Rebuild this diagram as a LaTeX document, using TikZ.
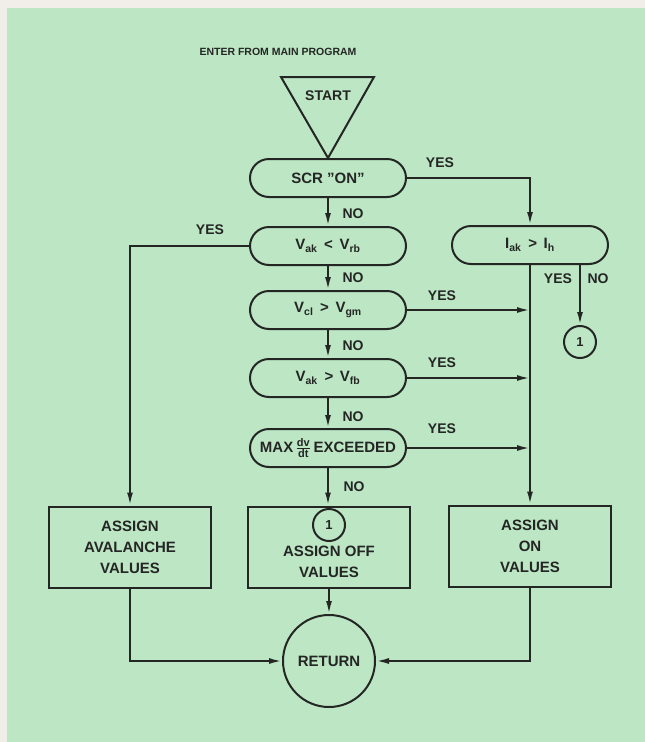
\documentclass[tikz,border=0pt]{standalone}
\usepackage{fontspec}
\setmainfont{Liberation Sans}
\usetikzlibrary{shapes.misc,arrows.meta}
\definecolor{bg}{RGB}{189,230,197}
\definecolor{paper}{RGB}{241,237,233}
\definecolor{ink}{RGB}{36,38,36}
\tikzset{
  every node/.style={text=ink},
  term/.style={draw=ink, line width=2pt, rounded rectangle, minimum width=160pt, minimum height=38pt, inner xsep=2pt, font=\fontsize{15}{18}\selectfont\bfseries},
  procbox/.style={draw=ink, line width=2pt, rectangle, minimum width=162pt, minimum height=81pt},
  boxtext/.style={align=center, inner sep=0pt, font=\fontsize{15}{21}\selectfont\bfseries},
  conn/.style={draw=ink, line width=2pt, circle, minimum size=32pt, inner sep=0pt, font=\fontsize{13}{15}\selectfont\bfseries},
  retc/.style={draw=ink, line width=2pt, circle, minimum size=92pt, inner sep=0pt, font=\fontsize{15}{18}\selectfont\bfseries},
  lbl/.style={inner sep=0pt, font=\fontsize{14}{16}\selectfont\bfseries},
  arr/.style={draw=ink, line width=2pt, -{Latex[length=13pt,width=6pt]}},
  ln/.style={draw=ink, line width=2pt},
}
\begin{document}
\begin{tikzpicture}[x=1pt,y=-1pt]
% background
\fill[paper] (0,0) rectangle (645,742);
\fill[bg] (7,8) rectangle (645,742);
\useasboundingbox (0,0) rectangle (645,742);

% title and start
\node[inner sep=0pt, font=\fontsize{10.5}{12}\selectfont\bfseries] (title) at (278,52) {ENTER FROM MAIN PROGRAM};
\coordinate (tl) at (281,77);
\coordinate (tr) at (374,77);
\coordinate (apex) at (328,158);
\draw[ln, line join=miter] (tl) -- (tr) -- (apex) -- cycle;
\node[lbl] (starttxt) at (328,96) {START};

% decision column
\node[term] (scr)  at (328,178) {SCR "ON"};
\node[term] (vrb)  at (328,246) {V\textsubscript{ak} \,<\, V\textsubscript{rb}};
\node[term] (vgm)  at (328,310) {V\textsubscript{cl} \,>\, V\textsubscript{gm}};
\node[term] (vfb)  at (328,378) {V\textsubscript{ak} \,>\, V\textsubscript{fb}};
\node[term] (dvdt) at (328,448) {MAX\,$\frac{\hbox{\fontsize{11}{12}\selectfont\bfseries dv}}{\hbox{\fontsize{11}{12}\selectfont\bfseries dt}}$\,EXCEEDED};
\node[term] (iak)  at (530,245) {I\textsubscript{ak} \,>\, I\textsubscript{h}};
\node[conn] (c1)   at (580,342) {1};

% process boxes
\node[procbox] (aval) at (130,547) {};
\node[boxtext] (avaltxt) at (130,547) {ASSIGN\\AVALANCHE\\VALUES};
\node[procbox] (off) at (329,547) {};
\node[conn] (c1b) at (329,525) {1};
\node[boxtext] (offtxt) at (329,562) {ASSIGN OFF\\VALUES};
\node[procbox] (on) at (530,546) {};
\node[boxtext] (ontxt) at (530,546) {ASSIGN\\ON\\VALUES};
\node[retc] (ret) at (329,661) {RETURN};

% connectors
\draw[arr] (scr.east) -| (iak.north);
\draw[arr] (scr.south) -- (vrb.north);
\draw[arr] (vrb.south) -- (vgm.north);
\draw[arr] (vgm.south) -- (vfb.north);
\draw[arr] (vfb.south) -- (dvdt.north);
\draw[arr] (dvdt.south) -- (dvdt.south |- off.north);
\draw[arr] (vrb.west) -| (aval.north);
\draw[arr] (iak.south) -- (on.north);
\draw[arr] (vgm.east) -- (vgm.east -| iak.south);
\draw[arr] (vfb.east) -- (vfb.east -| iak.south);
\draw[arr] (dvdt.east) -- (dvdt.east -| iak.south);
\draw[arr] (c1 |- iak.south) -- (c1.north);
\draw[arr] (off.south) -- (ret.north);
\draw[arr] (aval.south) |- (ret.west);
\draw[arr] (on.south) |- (ret.east);

% labels
\node[lbl] (y1) at (440,163) {YES};
\node[lbl] (y2) at (210,230) {YES};
\node[lbl] (y3) at (442,296) {YES};
\node[lbl] (y4) at (442,363) {YES};
\node[lbl] (y5) at (442,429) {YES};
\node[lbl] (y6) at (558,279) {YES};
\node[lbl] (n6) at (598,279) {NO};
\node[lbl] (n1) at (353,214) {NO};
\node[lbl] (n2) at (353,278) {NO};
\node[lbl] (n3) at (353,346) {NO};
\node[lbl] (n4) at (353,417) {NO};
\node[lbl] (n5) at (354,487) {NO};
\end{tikzpicture}
\end{document}
